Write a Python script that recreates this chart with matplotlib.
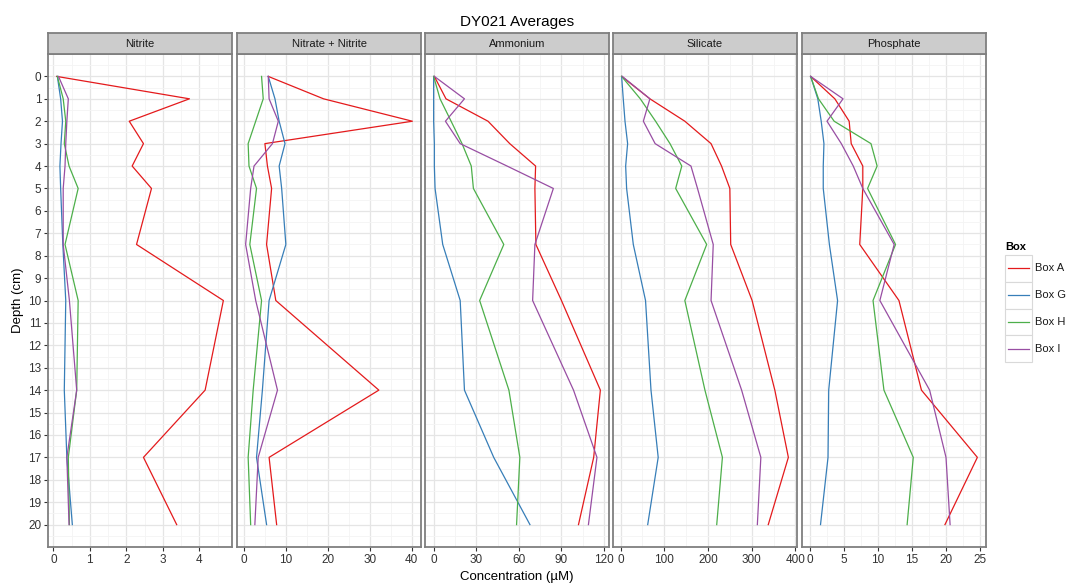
import numpy as np
import matplotlib.pyplot as plt
from matplotlib.patches import Rectangle
from matplotlib.lines import Line2D
from matplotlib.ticker import MultipleLocator

plt.rcParams['font.family'] = ['Liberation Sans', 'DejaVu Sans']

# depth of each sample (cm)
depth = [0, 1, 2, 3, 4, 5, 7.5, 10, 14, 17, 20]
boxes = ["Box A", "Box G", "Box H", "Box I"]
box_colours = ["#E41A1C", "#377EB8", "#4DAF4A", "#984EA3"]
panel_names = ["Nitrite", "Nitrate + Nitrite", "Ammonium", "Silicate", "Phosphate"]

# averaged concentrations (uM), one list per box
nitrite = {
    "Box A": [0.09, 3.73, 2.08, 2.47, 2.16, 2.69, 2.28, 4.66, 4.16, 2.47, 3.38],
    "Box G": [0.11, 0.20, 0.25, 0.21, 0.18, 0.20, 0.26, 0.34, 0.30, 0.37, 0.52],
    "Box H": [0.11, 0.27, 0.34, 0.30, 0.43, 0.68, 0.32, 0.68, 0.64, 0.41, 0.44],
    "Box I": [0.14, 0.41, 0.37, 0.34, 0.32, 0.27, 0.27, 0.44, 0.64, 0.37, 0.43],
}
nitrate_nitrite = {
    "Box A": [5.8, 19.0, 40.2, 5.0, 5.6, 6.6, 5.4, 7.6, 32.2, 6.0, 7.8],
    "Box G": [5.8, 7.4, 8.4, 9.8, 8.4, 9.0, 10.0, 6.0, 4.4, 3.0, 5.4],
    "Box H": [4.2, 4.6, 2.8, 1.0, 1.2, 3.0, 1.4, 4.2, 2.2, 1.0, 1.6],
    "Box I": [5.8, 6.0, 8.2, 6.8, 2.4, 1.6, 0.4, 2.8, 8.0, 3.4, 2.6],
}
ammonium = {
    "Box A": [0.5, 8.7, 38.3, 53.6, 71.8, 71.3, 72.0, 90.0, 117.4, 112.7, 102.0],
    "Box G": [0.0, 0.0, 0.0, 0.5, 0.5, 1.0, 6.4, 18.7, 21.7, 42.3, 67.8],
    "Box H": [0.0, 4.5, 12.3, 20.0, 26.5, 28.0, 49.4, 32.4, 53.0, 60.7, 58.4],
    "Box I": [0.5, 21.7, 8.3, 18.7, 51.7, 84.3, 71.3, 69.7, 98.5, 115.0, 109.0],
}
silicate = {
    "Box A": [2.3, 67, 147, 207, 231, 250, 252, 301, 353, 384, 338],
    "Box G": [2.3, 6, 10, 16, 11.5, 13.7, 29, 57, 69.5, 86, 62],
    "Box H": [2.3, 45, 80, 113, 140, 126, 197, 147, 193, 233, 220],
    "Box I": [3.8, 67, 52, 79, 161, 176, 212, 207, 277, 321, 313],
}
phosphate = {
    "Box A": [0.15, 3.7, 5.8, 6.1, 7.8, 7.8, 7.35, 13.1, 16.4, 24.6, 19.85],
    "Box G": [0.15, 1.2, 1.7, 2.1, 2.0, 2.0, 2.9, 4.1, 2.8, 2.7, 1.6],
    "Box H": [0.15, 1.3, 3.6, 9.0, 9.9, 8.5, 12.6, 9.3, 10.9, 15.2, 14.3],
    "Box I": [0.15, 4.9, 2.55, 4.65, 6.4, 7.8, 12.4, 10.3, 17.6, 20.0, 20.6],
}
panel_data = [nitrite, nitrate_nitrite, ammonium, silicate, phosphate]
x_steps = [1, 10, 30, 100, 5]

W, H = 1066, 584
fig = plt.figure(figsize=(W / 100, H / 100), dpi=100)

def px_box(left, top, width, height):
    return [left / W, 1 - (top + height) / H, width / W, height / H]

panel_left = [48.3, 237.3, 425.3, 613.3, 802.3]
panel_w = 183.4
panel_top, panel_bottom = 54, 547
strip_top = 33.3

border = "#7F7F7F"
for i, name in enumerate(panel_names):
    ax = fig.add_axes(px_box(panel_left[i], panel_top, panel_w, panel_bottom - panel_top))
    data = panel_data[i]
    allv = np.concatenate([data[b] for b in boxes])
    r = allv.max() - allv.min()
    ax.set_xlim(allv.min() - 0.05 * r, allv.max() + 0.05 * r)
    ax.set_ylim(21, -1)
    for b, c in zip(boxes, box_colours):
        ax.plot(data[b], depth, color=c, lw=0.9, zorder=3)

    ax.xaxis.set_major_locator(MultipleLocator(x_steps[i]))
    ax.xaxis.set_minor_locator(MultipleLocator(x_steps[i] / 2))
    ax.set_yticks(range(0, 21))
    ax.set_yticks(np.arange(-0.5, 21, 1.0), minor=True)
    ax.grid(which="major", color="#E5E5E5", lw=0.9)
    ax.grid(which="minor", color="#F4F4F4", lw=0.6)
    ax.set_axisbelow(True)
    ax.tick_params(which="minor", length=0)
    ax.tick_params(which="major", length=3, width=0.8, color="#333333",
                   labelsize=8.5, labelcolor="#333333", pad=2)
    if i > 0:
        ax.tick_params(axis="y", left=False, labelleft=False)
    for s in ax.spines.values():
        s.set_color(border)
        s.set_linewidth(1.3)

    sx = fig.add_axes(px_box(panel_left[i], strip_top, panel_w, panel_top - strip_top))
    sx.set_facecolor("#CCCCCC")
    sx.set_xticks([])
    sx.set_yticks([])
    for s in sx.spines.values():
        s.set_color(border)
        s.set_linewidth(1.3)
    sx.text(0.5, 0.5, name, ha="center", va="center", fontsize=8,
            color="#1A1A1A", transform=sx.transAxes)

mid = (panel_left[0] + panel_left[-1] + panel_w) / 2 / W
fig.text(mid, 1 - 22 / H, "DY021 Averages", ha="center", va="center", fontsize=11)
fig.text(mid, 1 - 577 / H, "Concentration (µM)", ha="center", va="center", fontsize=9.5)
fig.text(18 / W, 1 - 300 / H, "Depth (cm)", ha="center", va="center",
         rotation=90, fontsize=9.5)

# legend drawn ggplot-style with key boxes
lg = fig.add_axes([0, 0, 1, 1], facecolor="none")
lg.set_xlim(0, W)
lg.set_ylim(H, 0)
lg.axis("off")
lg.text(1005, 247, "Box", ha="left", va="center", fontsize=8, fontweight="bold")
key_top = 255
key_h = 26.8
for k, (b, c) in enumerate(zip(boxes, box_colours)):
    y0 = key_top + k * key_h
    lg.add_patch(Rectangle((1005.3, y0), 26.4, key_h, facecolor="white",
                           edgecolor="#D9D9D9", lw=0.8))
    lg.add_line(Line2D([1008, 1029], [y0 + key_h / 2] * 2, color=c, lw=0.9))
    lg.text(1035, y0 + key_h / 2, b, ha="left", va="center", fontsize=8,
            color="#1A1A1A")

fig.savefig("out.png", dpi=100)
